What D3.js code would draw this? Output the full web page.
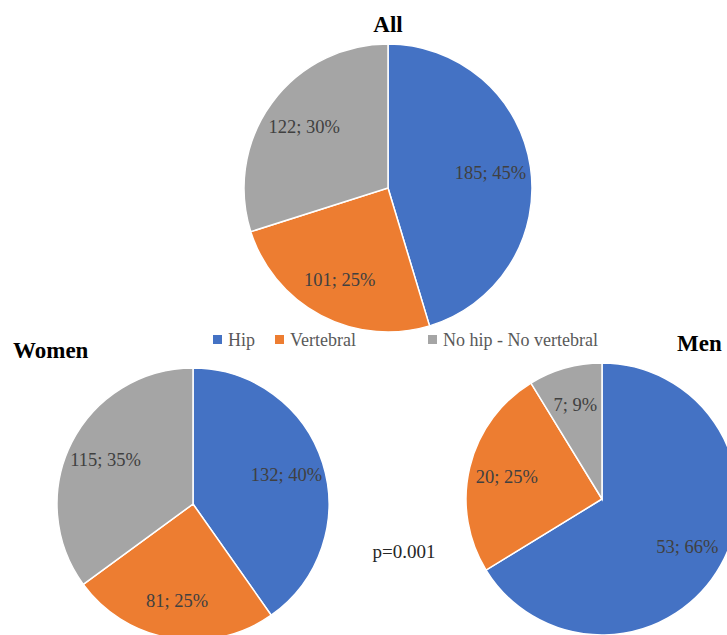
<!DOCTYPE html>
<html><head><meta charset="utf-8">
<script src="https://cdn.jsdelivr.net/npm/d3@7"></script>
<style>html,body{margin:0;padding:0;background:#fff;overflow:hidden}</style>
</head><body><svg id="c" width="727" height="635"></svg>
<script>
const categories = ["Hip", "Vertebral", "No hip - No vertebral"];
const colors = ["#4472C4", "#ED7D31", "#A5A5A5"];
const allValues = [185, 101, 122];
const allPct = [45, 25, 30];
const womenValues = [132, 81, 115];
const womenPct = [40, 25, 35];
const menValues = [53, 20, 7];
const menPct = [66, 25, 9];
const pValue = "p=0.001";

const svg = d3.select("#c");
const FONT = "'Liberation Serif', 'Times New Roman', serif";

const charts = [
  {title: "All", values: allValues, pct: allPct, cx: 388, cy: 188, r: 144, tx: 388, ty: 32, anchor: "middle"},
  {title: "Women", values: womenValues, pct: womenPct, cx: 193, cy: 504, r: 136, tx: 13, ty: 358, anchor: "start"},
  {title: "Men", values: menValues, pct: menPct, cx: 602, cy: 499, r: 136, tx: 677, ty: 351, anchor: "start"}
];

const pie = d3.pie().sort(null).value(d => d.v);
const color = d3.scaleOrdinal().domain(categories).range(colors);

charts.forEach(ch => {
  const data = ch.values.map((v, i) => ({v, p: ch.pct[i], c: categories[i]}));
  const arcs = pie(data);
  const arc = d3.arc().innerRadius(0).outerRadius(ch.r);
  const labelArc = d3.arc().innerRadius(ch.r * 0.72).outerRadius(ch.r * 0.72);
  const g = svg.append("g").attr("transform", `translate(${ch.cx},${ch.cy})`);
  g.selectAll("path").data(arcs).join("path")
    .attr("d", arc)
    .attr("fill", d => color(d.data.c))
    .attr("stroke", "#fff").attr("stroke-width", 1.5);
  g.selectAll("text").data(arcs).join("text")
    .attr("transform", d => `translate(${labelArc.centroid(d)})`)
    .attr("text-anchor", "middle").attr("dy", "0.35em")
    .attr("font-family", FONT).attr("font-size", 18.5).attr("fill", "#404040")
    .text(d => `${d.data.v}; ${d.data.p}%`);
  svg.append("text").attr("x", ch.tx).attr("y", ch.ty)
    .attr("text-anchor", ch.anchor)
    .attr("font-family", FONT).attr("font-weight", "bold").attr("font-size", 23)
    .attr("fill", "#000").text(ch.title);
});

// legend
const legendX = [213, 275, 428];
const lg = svg.append("g");
categories.forEach((c, i) => {
  lg.append("rect").attr("x", legendX[i]).attr("y", 335).attr("width", 9).attr("height", 9).attr("fill", colors[i]);
  lg.append("text").attr("x", legendX[i] + 15).attr("y", 346)
    .attr("font-family", FONT).attr("font-size", 18).attr("fill", "#595959").text(c);
});

svg.append("text").attr("x", 404).attr("y", 558).attr("text-anchor", "middle")
  .attr("font-family", FONT).attr("font-size", 19).attr("fill", "#262626").text(pValue);
</script></body></html>
